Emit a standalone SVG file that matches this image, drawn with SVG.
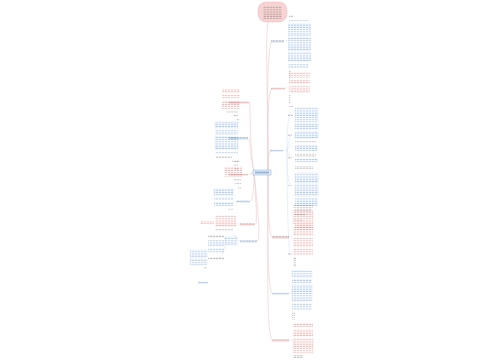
<svg xmlns="http://www.w3.org/2000/svg" width="500" height="360" viewBox="0 0 500 360">
<defs>
<pattern id="pb" width="3" height="2.2" patternUnits="userSpaceOnUse"><rect x="0" y="0.5" width="2.4" height="0.8" fill="#3f7fd0" opacity="0.5"/></pattern>
<pattern id="pr" width="3" height="2.2" patternUnits="userSpaceOnUse"><rect x="0" y="0.5" width="2.4" height="0.8" fill="#d9534f" opacity="0.5"/></pattern>
<pattern id="pg" width="3" height="2.2" patternUnits="userSpaceOnUse"><rect x="0" y="0.5" width="2.4" height="0.8" fill="#555" opacity="0.45"/></pattern>
</defs>
<style>
.c{fill:none;stroke:#efc9c9;stroke-width:0.6}
.cb{fill:none;stroke:#d3e0f0;stroke-width:0.5}
.b{fill:url(#pb)}
.r{fill:url(#pr)}
.g{fill:url(#pg)}
.bb{fill:none;stroke:#b5cfee;stroke-width:0.3}
.rb{fill:none;stroke:#f2c2c2;stroke-width:0.3}
.ul{stroke-width:0.7}
</style>
<rect width="500" height="360" fill="#fff"/>
<g id="connectors">
<path class="c" d="M268 172 C268 100 265 40 268 22"/>
<path class="c" d="M268 172 C268 120 266 50 272 41"/>
<path class="c" d="M268 172 C268 130 267 95 272 88"/>
<path class="c" d="M268 172 C268 160 268 152 272 150"/>
<path class="c" d="M268 172 C268 200 268 230 272 237"/>
<path class="c" d="M268 172 C268 230 267 285 272 293"/>
<path class="c" d="M268 172 C268 250 266 330 272 340"/>
<path class="c" d="M254 172 C250 150 250 110 250 102"/>
<path class="c" d="M254 172 C250 155 250 142 249 138"/>
<path class="c" d="M254 172 C252 174 250 174 249 174"/>
<path class="c" d="M254 172 C254 190 253 198 251 201"/>
<path class="c" d="M254 172 C256 200 257 218 256 224"/>
<path class="c" d="M254 172 C258 210 260 235 258 241"/>
<path class="cb" d="M285 41 L288 41 M285 88 L289 88 M283 150 L287 150 M290 237 L292 237 M290 293 L292 293 M290 340 L292 340"/>
<path class="cb" d="M228 102 L224 102 M228 138 L238 138 M228 174 L243 174 M235 201 L233 201 M240 224 L236 224 M240 241 L238 241"/>
<path class="cb" d="M287 150 C287 130 288 118 290 115 M287 150 L290 135 M287 150 L290 145 M287 150 L290 158 M287 150 C287 170 288 180 290 185 M287 150 C287 200 288 240 290 255"/>
<path class="cb" d="M238 241 C236 236 236 236 234 236 M226 244 C224 250 222 255 220 258 M208 256 L206 256"/>
</g>
<g id="title">
<rect x="258" y="2" width="29" height="20" rx="8" fill="#f8d3d3" stroke="#eab0b0" stroke-width="0.4"/>
<rect x="263" y="6" width="19" height="13" class="g"/>
</g>
<g id="root">
<rect x="253" y="170" width="18" height="5" fill="#e6f0fb" stroke="#6b9bd8" stroke-width="0.4"/>
<rect x="255" y="171.5" width="14" height="2" fill="#3a6db0" opacity="0.45"/>
</g>
<g id="r1">
<rect x="271" y="40" width="13" height="1.2" class="g"/><line x1="271" y1="41.8" x2="284" y2="41.8" stroke="#8ab0e0" class="ul"/>
<rect x="289" y="15" width="4" height="2" class="g"/>
<rect x="289" y="19" width="20" height="2" class="b"/>
<rect x="288.5" y="24" width="22" height="12" class="b"/><rect x="288.5" y="24" width="22" height="12" class="bb"/>
<rect x="288.5" y="38" width="22" height="12" class="b"/><rect x="288.5" y="38" width="22" height="12" class="bb"/>
<rect x="288.5" y="52" width="22" height="9" class="b"/><rect x="288.5" y="52" width="22" height="9" class="bb"/>
<rect x="288.5" y="63" width="20" height="5" class="b"/>
<rect x="289" y="70" width="2" height="9" class="g"/>
</g>
<g id="r2">
<rect x="271" y="87" width="14" height="1.2" class="g"/><line x1="271" y1="88.8" x2="285" y2="88.8" stroke="#eb8c8c" class="ul"/>
<rect x="289" y="72" width="21" height="6" class="r"/>
<rect x="289" y="80" width="21" height="4" class="r"/>
<rect x="289" y="86" width="21" height="7" class="r"/>
<rect x="289" y="95" width="2" height="9" class="g"/>
</g>
<g id="r3">
<rect x="270" y="149" width="13" height="1.2" class="g"/><line x1="270" y1="150.8" x2="283" y2="150.8" stroke="#8ab0e0" class="ul"/>
<rect x="289" y="106" width="4" height="2" class="g"/>
<rect x="295" y="108" width="23" height="14" class="b"/><rect x="295" y="108" width="23" height="14" class="bb"/>
<rect x="295" y="124" width="23" height="5" class="b"/><rect x="295" y="124" width="23" height="5" class="bb"/>
<rect x="295" y="132" width="23" height="6" class="b"/><rect x="295" y="132" width="23" height="6" class="bb"/>
<rect x="295" y="140" width="21" height="3" class="g"/>
<rect x="295" y="145" width="23" height="6" class="b"/>
<rect x="295" y="153" width="21" height="4" class="g"/>
<rect x="295" y="159" width="23" height="4" class="b"/>
<rect x="295" y="166" width="18" height="3" class="g"/>
<rect x="295" y="173" width="23" height="10" class="b"/><rect x="295" y="173" width="23" height="10" class="bb"/>
<rect x="295" y="185" width="23" height="11" class="b"/><rect x="295" y="185" width="23" height="11" class="bb"/>
<rect x="295" y="198" width="23" height="8" class="b"/>
<rect x="295" y="208" width="16" height="4" class="g"/>
<rect x="295" y="214" width="10" height="2" class="g"/>
<rect x="295" y="219" width="8" height="2" class="g"/>
<rect x="295" y="224" width="18" height="6" class="r"/>
<rect x="288" y="114" width="5" height="2" class="g"/>
<rect x="288" y="134" width="4" height="2" class="g"/>
<rect x="288" y="157" width="4" height="2" class="g"/>
<rect x="288" y="184" width="4" height="2" class="g"/>
<rect x="288" y="253" width="4" height="2" class="g"/>
</g>
<g id="r4">
<rect x="272" y="236" width="17" height="1.2" class="g"/><line x1="272" y1="237.8" x2="289" y2="237.8" stroke="#eb8c8c" class="ul"/>
<rect x="293" y="204" width="20" height="4" class="g"/>
<rect x="293" y="210" width="20" height="14" class="r"/><rect x="293" y="210" width="20" height="14" class="rb"/>
<rect x="293" y="226" width="20" height="10" class="r"/>
<rect x="293" y="238" width="20" height="9" class="r"/>
<rect x="293" y="249" width="20" height="6" class="r"/>
<rect x="293" y="257" width="3" height="10" class="g"/>
</g>
<g id="r5">
<rect x="272" y="292" width="17" height="1.2" class="g"/><line x1="272" y1="293.8" x2="289" y2="293.8" stroke="#8ab0e0" class="ul"/>
<rect x="292" y="271" width="20" height="6" class="b"/><rect x="292" y="271" width="20" height="6" class="bb"/>
<rect x="292" y="279" width="20" height="4" class="b"/>
<rect x="292" y="285" width="20" height="16" class="b"/><rect x="292" y="285" width="20" height="16" class="bb"/>
<rect x="292" y="303" width="20" height="7" class="b"/>
<rect x="292" y="312" width="3" height="8" class="g"/>
</g>
<g id="r6">
<rect x="272" y="339" width="17" height="1.2" class="g"/><line x1="272" y1="340.8" x2="289" y2="340.8" stroke="#eb8c8c" class="ul"/>
<rect x="293" y="323" width="20" height="4" class="r"/>
<rect x="293" y="329" width="20" height="8" class="r"/>
<rect x="293" y="339" width="20" height="14" class="r"/><rect x="293" y="339" width="20" height="14" class="rb"/>
<rect x="293" y="355" width="10" height="3" class="g"/>
</g>
<g id="l1">
<rect x="229" y="101" width="20" height="1.2" class="g"/><line x1="229" y1="102.8" x2="249" y2="102.8" stroke="#eb8c8c" class="ul"/>
<rect x="222" y="89" width="18" height="4" class="r"/>
<rect x="222" y="95" width="18" height="4" class="r"/>
<rect x="222" y="101" width="18" height="8" class="r"/>
<rect x="226" y="111" width="12" height="2" class="g"/>
<rect x="233" y="115" width="5" height="2" class="g"/>
</g>
<g id="l2">
<rect x="229" y="137" width="19" height="1.2" class="g"/><line x1="229" y1="138.8" x2="248" y2="138.8" stroke="#8ab0e0" class="ul"/>
<rect x="236" y="119" width="3" height="2" class="g"/>
<rect x="215" y="122" width="23" height="6" class="b"/><rect x="215" y="122" width="23" height="6" class="bb"/>
<rect x="215" y="130" width="23" height="5" class="b"/>
<rect x="215" y="137" width="23" height="12" class="b"/><rect x="215" y="137" width="23" height="12" class="bb"/>
<rect x="215" y="151" width="23" height="3" class="b"/>
<rect x="216" y="156" width="16" height="2" class="g"/>
<rect x="232" y="160" width="6" height="2" class="g"/>
<rect x="233" y="164" width="5" height="2" class="g"/>
<rect x="235" y="168" width="3" height="2" class="g"/>
</g>
<g id="l3">
<rect x="229" y="173" width="19" height="1.2" class="g"/><line x1="229" y1="174.8" x2="248" y2="174.8" stroke="#eb8c8c" class="ul"/>
<rect x="235" y="160" width="5" height="2" class="g"/>
<rect x="224" y="167" width="18" height="10" class="r"/>
<rect x="234" y="179" width="7" height="2" class="g"/>
<rect x="235" y="183" width="6" height="2" class="g"/>
<rect x="238" y="187" width="3" height="2" class="g"/>
</g>
<g id="l4">
<rect x="236" y="200" width="14" height="1.2" class="g"/><line x1="236" y1="201.8" x2="250" y2="201.8" stroke="#8ab0e0" class="ul"/>
<rect x="214" y="189" width="19" height="6" class="b"/><rect x="214" y="189" width="19" height="6" class="bb"/>
<rect x="214" y="197" width="19" height="3" class="b"/>
<rect x="214" y="202" width="19" height="4" class="b"/>
<rect x="228" y="208" width="5" height="2" class="g"/>
</g>
<g id="l5">
<rect x="240" y="223" width="15" height="1.2" class="g"/><line x1="240" y1="224.8" x2="255" y2="224.8" stroke="#eb8c8c" class="ul"/>
<rect x="215" y="215" width="21" height="12" class="r"/>
<rect x="200" y="221" width="14" height="3" class="r"/>
<rect x="215" y="229" width="18" height="2" class="g"/>
</g>
<g id="l6">
<rect x="240" y="240" width="17" height="1.2" class="g"/><line x1="240" y1="241.8" x2="257" y2="241.8" stroke="#8ab0e0" class="ul"/>
<rect x="225" y="237" width="12" height="8" class="b"/><rect x="225" y="237" width="12" height="8" class="bb"/>
<rect x="208" y="235" width="16" height="3" class="g"/>
<rect x="208" y="240" width="16" height="6" class="b"/>
<rect x="208" y="248" width="16" height="5" class="b"/>
<rect x="208" y="257" width="16" height="3" class="g"/>
<rect x="190" y="250" width="17" height="7" class="b"/><rect x="190" y="250" width="17" height="7" class="bb"/>
<rect x="190" y="259" width="17" height="6" class="b"/><rect x="190" y="259" width="17" height="6" class="bb"/>
<rect x="204" y="267" width="3" height="2" class="g"/>
<rect x="198" y="281" width="10" height="1.2" class="g"/><line x1="198" y1="282.8" x2="208" y2="282.8" stroke="#8ab0e0" class="ul"/>
</g>
</svg>
